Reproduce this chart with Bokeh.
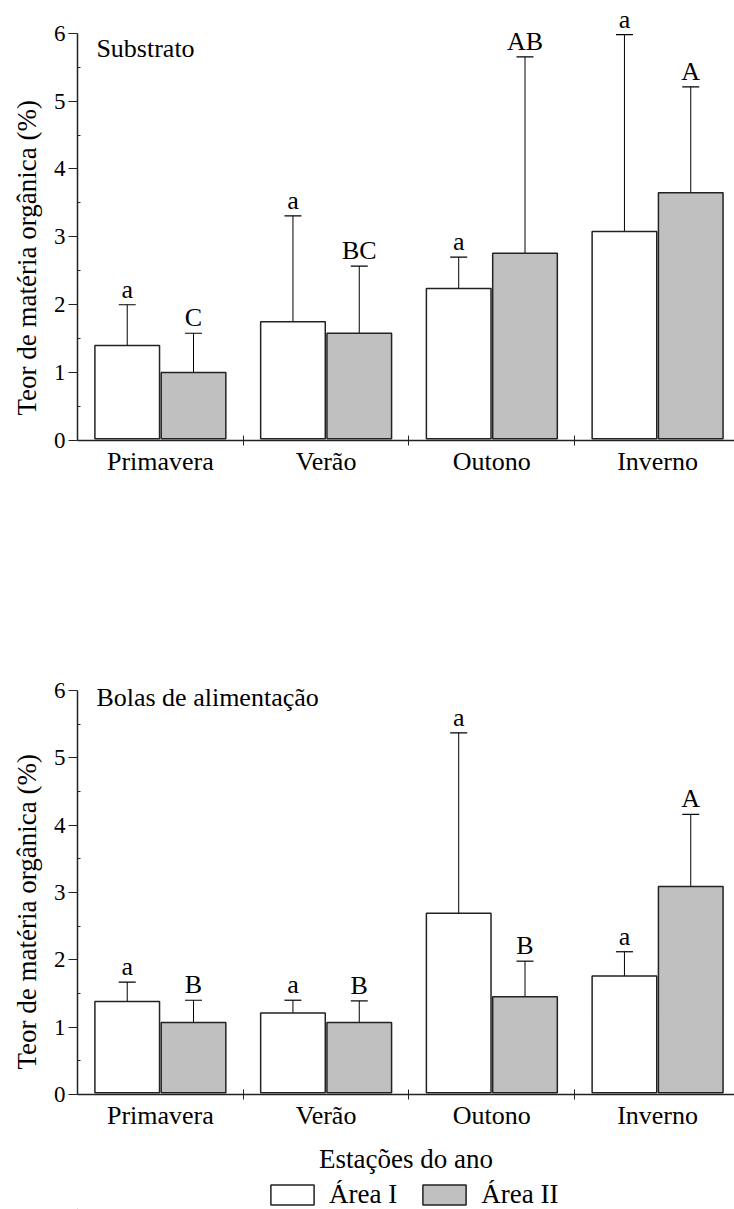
import numpy as np
from bokeh.plotting import figure
from bokeh.models import (ColumnDataSource, FixedTicker, Whisker, TeeHead, Legend,
                          LegendItem, Label, Title)
from bokeh.layouts import column
from bokeh.embed import file_html
from bokeh.resources import INLINE
from bokeh.core.properties import value

seasons = ["Primavera", "Verão", "Outono", "Inverno"]
series_names = ["Área I", "Área II"]

# Substrato
sub_area1 = [1.40, 1.75, 2.24, 3.08]
sub_area1_err = [0.60, 1.56, 0.46, 2.90]
sub_area2 = [1.00, 1.58, 2.76, 3.65]
sub_area2_err = [0.58, 0.99, 2.89, 1.56]
sub_letters1 = ["a", "a", "a", "a"]
sub_letters2 = ["C", "BC", "AB", "A"]

# Bolas de alimentação
bol_area1 = [1.38, 1.21, 2.69, 1.76]
bol_area1_err = [0.29, 0.19, 2.68, 0.36]
bol_area2 = [1.07, 1.07, 1.45, 3.09]
bol_area2_err = [0.33, 0.32, 0.53, 1.07]
bol_letters1 = ["a", "a", "a", "a"]
bol_letters2 = ["B", "B", "B", "A"]

y_ticks = [0, 1, 2, 3, 4, 5, 6]
y_minor = [0.5, 1.5, 2.5, 3.5, 4.5, 5.5]

FONT = "Liberation Serif"
GRAY = "#c0c0c0"
EDGE = "#222222"
W = 734


def make_panel(title, title_y, a1, e1, a2, e2, l1, l2, height, top, bottom, ymax, show_xlabel):
    p = figure(width=W, height=height, x_range=(0, 3.964), y_range=(0, ymax),
               output_backend="svg", toolbar_location=None,
               min_border_left=76, min_border_right=0,
               min_border_top=top, min_border_bottom=bottom)
    p.outline_line_color = None
    p.xgrid.visible = False
    p.ygrid.visible = False
    p.background_fill_color = None
    p.border_fill_color = "white"

    centers = np.arange(len(seasons)) + 0.5
    x1 = centers - 0.2
    x2 = centers + 0.2
    a1 = np.array(a1); a2 = np.array(a2); e1 = np.array(e1); e2 = np.array(e2)

    src1 = ColumnDataSource(dict(x=x1, top=a1, up=a1 + e1, lab=l1))
    src2 = ColumnDataSource(dict(x=x2, top=a2, up=a2 + e2, lab=l2))

    for src in (src1, src2):
        w = Whisker(source=src, base="x", lower="top", upper="up",
                    line_color="black", line_width=1,
                    lower_head=None,
                    upper_head=TeeHead(size=17, line_color="black", line_width=1.2))
        p.add_layout(w)

    r1 = p.vbar(x="x", top="top", bottom=0.025, width=0.39, source=src1,
                fill_color="white", line_color=EDGE, line_width=1.5)
    r2 = p.vbar(x="x", top="top", bottom=0.025, width=0.39, source=src2,
                fill_color=GRAY, line_color=EDGE, line_width=1.5)

    for src in (src1, src2):
        p.text(x="x", y="up", text="lab", source=src, text_align="center",
               text_baseline="bottom", y_offset=-1,
               text_font=value(FONT), text_font_size="26px", text_color="black")

    p.add_layout(Label(x=0.114, y=title_y, text=title, text_baseline="middle",
                       text_font=FONT, text_font_size="26px", text_color="black"))

    # y axis label as a left-side title (lets us shift it along the axis)
    p.add_layout(Title(text="Teor de matéria orgânica (%)", align="left", offset=25,
                       standoff=18, text_font=FONT, text_font_size="27px",
                       text_font_style="normal", text_color="black"), "left")

    # y axis
    ya = p.yaxis[0]
    ya.ticker = FixedTicker(ticks=y_ticks, minor_ticks=y_minor)
    ya.bounds = (0, 6)
    ya.major_label_text_font = FONT
    ya.major_label_text_font_size = "23px"
    ya.major_label_text_color = "black"
    ya.major_label_standoff = 3
    ya.major_tick_out = 9
    ya.major_tick_in = 0
    ya.minor_tick_in = 3
    ya.minor_tick_out = 0
    ya.axis_line_width = 1.5
    ya.major_tick_line_width = 1.2
    ya.axis_line_color = EDGE
    ya.major_tick_line_color = EDGE
    ya.minor_tick_line_color = EDGE

    # x axis
    xa = p.xaxis[0]
    xa.ticker = FixedTicker(ticks=list(centers), minor_ticks=[1, 2, 3])
    xa.major_label_overrides = {float(c): s for c, s in zip(centers, seasons)}
    xa.major_label_text_font = FONT
    xa.major_label_text_font_size = "26px"
    xa.major_label_text_color = "black"
    xa.major_label_standoff = 1
    xa.major_tick_in = 0
    xa.major_tick_out = 0
    xa.minor_tick_in = 5
    xa.minor_tick_out = 5
    xa.axis_line_width = 1.5
    xa.axis_line_color = EDGE
    xa.minor_tick_line_color = EDGE
    if show_xlabel:
        xa.axis_label = "Estações do ano"
        xa.axis_label_text_font = FONT
        xa.axis_label_text_font_style = "normal"
        xa.axis_label_text_font_size = "27px"
        xa.axis_label_text_color = "black"
        xa.axis_label_standoff = 11
    return p, r1, r2


p_top, _, _ = make_panel("Substrato", 5.77, sub_area1, sub_area1_err, sub_area2, sub_area2_err,
                         sub_letters1, sub_letters2, height=600, top=2, bottom=160,
                         ymax=6.452, show_xlabel=False)
p_bot, _, _ = make_panel("Bolas de alimentação", 5.90, bol_area1, bol_area1_err, bol_area2,
                         bol_area2_err, bol_letters1, bol_letters2, height=580, top=60,
                         bottom=86, ymax=6.445, show_xlabel=True)

# legend strip (its frame is aligned with the panels' frames, starting at x=76)
p_leg = figure(width=W, height=29, x_range=(0, 658), y_range=(0, 29),
               x_axis_type=None, y_axis_type=None, output_backend="svg",
               toolbar_location=None, min_border=0)
p_leg.outline_line_color = None
p_leg.xgrid.visible = False
p_leg.ygrid.visible = False
p_leg.background_fill_color = None
offscreen = ColumnDataSource(dict(x=[-1000], top=[-1000]))
lr1 = p_leg.vbar(x="x", top="top", bottom=-1001, width=1, source=offscreen,
                 fill_color="white", line_color=EDGE, line_width=1.5)
lr2 = p_leg.vbar(x="x", top="top", bottom=-1001, width=1, source=offscreen,
                 fill_color=GRAY, line_color=EDGE, line_width=1.5)
legend = Legend(items=[LegendItem(label=series_names[0], renderers=[lr1]),
                       LegendItem(label=series_names[1], renderers=[lr2])],
                orientation="horizontal", location=(188, -1),
                label_text_font=FONT, label_text_font_size="27px",
                label_text_color="black", label_height=25,
                glyph_width=54, glyph_height=25, spacing=20, label_standoff=10,
                padding=0, margin=0, border_line_color=None,
                background_fill_alpha=0)
p_leg.add_layout(legend, "center")

layout = column(p_top, p_bot, p_leg, spacing=0)
open("out.html", "w").write(file_html(layout, INLINE))
